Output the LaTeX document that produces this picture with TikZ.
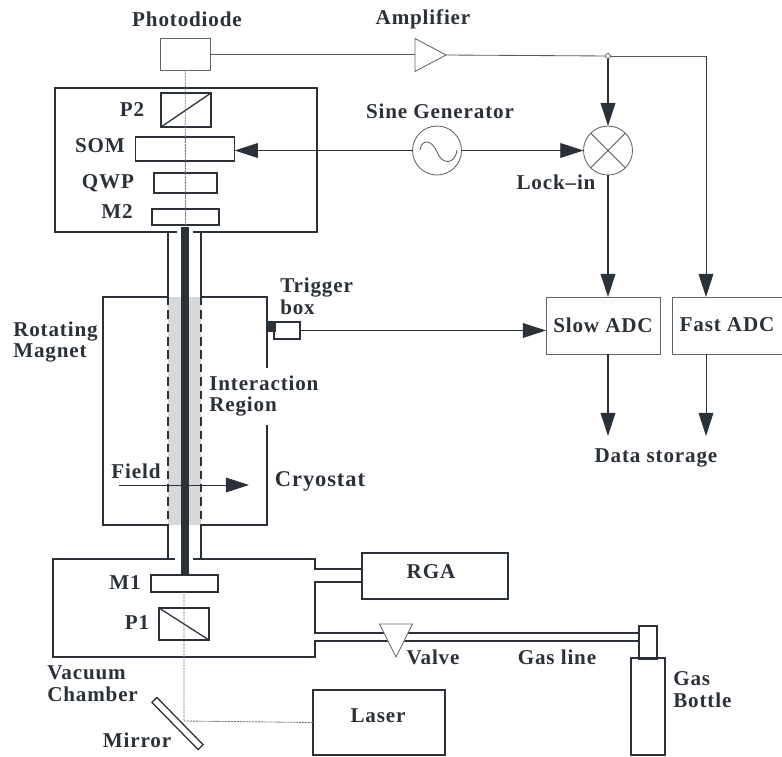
\documentclass[tikz,border=0pt]{standalone}
\usepackage{fontspec}
\setmainfont[LetterSpace=4]{Liberation Serif}
\usepackage{xcolor}
\usepackage{tikz}
\usetikzlibrary{arrows.meta,shapes.geometric}
\definecolor{ink}{HTML}{2A3138}
\definecolor{softgray}{HTML}{D6D8D9}
\definecolor{beamgray}{HTML}{6F757A}
\begin{document}
\begin{tikzpicture}[
  x=0.025cm, y=-0.025cm,
  font=\fontsize{15}{15.6}\selectfont\bfseries,
  lab/.style={text=ink, inner sep=0pt, align=left},
  boxsize/.style 2 args={minimum width=#1*0.025cm, minimum height=#2*0.025cm},
  box/.style={draw=ink, line width=0.9pt, inner sep=0pt, outer sep=0pt},
  thinbox/.style={draw=ink!75, line width=0.6pt, inner sep=0pt, outer sep=0pt},
  wall/.style={draw=ink, line width=0.9pt},
  wire/.style={draw=ink!80, line width=0.6pt},
  beam/.style={draw=beamgray, line width=0.6pt, dash pattern=on 1.5pt off 0.6pt},
  arrow/.style={-{Triangle[length=0.58cm,width=0.37cm]}, draw=ink, line width=0.9pt},
  thinarrow/.style={arrow, line width=0.6pt}
]
\useasboundingbox (0,0) rectangle (782,756);
\node[box, boxsize={33}{228}, fill=softgray, draw=none] (region) at (184.5,411) {};
\node[box, boxsize={8}{348}, fill=ink, draw=none] (bar) at (185,401) {};
\node[thinbox, boxsize={50}{32}] (pd) at (185.2,54) {};
\node[box, boxsize={50}{34}] (p2) at (186,110) {};
\node[box, boxsize={99}{24}] (som) at (185.2,149) {};
\node[box, boxsize={63}{20}] (qwp) at (185.5,183) {};
\node[box, boxsize={67}{16}] (m2) at (185.5,217) {};
\node[box, boxsize={67}{17}] (m1) at (184.5,583.5) {};
\node[box, boxsize={50}{32}] (p1) at (184,624) {};
\node[box, boxsize={66}{7}, rotate=-45.6] (mirror) at (177.5,723.5) {};
\node[box, boxsize={132}{65}] (laser) at (379,722.5) {};
\node[box, boxsize={146}{46}] (rga) at (435,576) {};
\node[box, boxsize={18}{33}] (neck) at (648,642.5) {};
\node[box, boxsize={34}{97}] (bottle) at (648,706.5) {};
\node[box, boxsize={26}{17}] (trig) at (287,330.5) {};
\node[box, boxsize={8}{9}, fill=ink] (nub) at (271,326.5) {};
\node[thinbox, boxsize={114}{57}] (slow) at (603,325.5) {};
\node[thinbox, boxsize={111}{57}] (fast) at (727.5,325.5) {};
\node[thinbox, circle, boxsize={49}{49}] (sine) at (437,150.5) {};
\node[thinbox, circle, boxsize={49}{49}] (lockin) at (608,150.5) {};
\node[thinbox, circle, boxsize={5}{5}] (junction) at (608,56) {};
\coordinate (fastbend) at (706,56);
\coordinate (slowend) at (608,436);
\coordinate (fastend) at (706,436);
\coordinate (fieldstart) at (119,485);
\coordinate (fieldend) at (249,485);
\coordinate (mirrorhit) at (184,721);
\draw[wall] (177,232) -- (55,232) -- (55,88) -- (317,88) -- (317,232) -- (193,232);
\draw[wall] (175,559) -- (53,559) -- (53,657) -- (315,657) -- (315,641) -- (639,641);
\draw[wall] (193,559) -- (315,559) -- (315,569) -- (362,569);
\draw[wall] (362,582) -- (315,582) -- (315,633) -- (639,633);
\draw[wall] (168,297) -- (103,297) -- (103,525) -- (168,525);
\draw[wall] (201,297) -- (267,297) -- (267,368);
\draw[wall] (267,425) -- (267,525) -- (201,525);
\foreach \tubex in {168,201} {
  \draw[wall] (\tubex,232) -- (\tubex,297);
  \draw[wall, line width=1.5pt, dash pattern=on 6pt off 3.5pt] (\tubex,297) -- (\tubex,525);
  \draw[wall] (\tubex,525) -- (\tubex,559);
}
\draw[box] (p2.south west) -- (p2.north east);
\draw[box] (p1.north west) -- (p1.south east);
\draw[beam] (pd.south) -- (m2.south);
\draw[beam] (laser.west) -- (mirrorhit) -- (mirrorhit |- m1.south);
\node[thinbox, fill=white, isosceles triangle, isosceles triangle stretches, boxsize={33}{31}, anchor=apex] (amp) at (446,55) {};
\node[thinbox, fill=white, isosceles triangle, isosceles triangle stretches, shape border rotate=270, boxsize={33}{33}, anchor=apex] (valve) at (396,657) {};
\draw[wire] (pd.east) -- (pd.east -| amp.west);
\draw[wire] (amp.apex) -- (junction);
\draw[wire] (junction) -- (fastbend);
\draw[arrow] (junction) -- (lockin.north);
\draw[thinarrow] (fastbend) -- (fastbend |- fast.north);
\draw[thinarrow] (sine.west) -- (sine.west -| som.east);
\draw[thinarrow] (sine.east) -- (lockin.west);
\draw[arrow] (lockin.south) -- (lockin.south |- slow.north);
\draw[thinarrow] (trig.east) -- (slow.west |- trig.east);
\draw[thinarrow] (fastbend |- fast.south) -- (fastend);
\draw[arrow] (slowend |- slow.south) -- (slowend);
\draw[thinarrow] (fieldstart) -- (fieldend);
\draw[wire] (lockin.45) -- (lockin.225);
\draw[wire] (lockin.135) -- (lockin.315);
\draw[wire] (420,150) .. controls (422,138) and (432,140) .. (437,152) .. controls (442,165) and (455,165) .. (457,150);
\node[lab] (lpd) at (187,19) {Photodiode};
\node[lab] (lamp) at (423,19) {Amplifier};
\node[lab] (lsine) at (440,111) {Sine Generator};
\node[lab] (llockin) at (556,182) {Lock--in};
\node[lab] (lp2) at (132,110) {P2};
\node[lab] (lsom) at (100,146) {SOM};
\node[lab] (lqwp) at (108,183) {QWP};
\node[lab] (lm2) at (117,212) {M2};
\node[lab] (lm1) at (125,583) {M1};
\node[lab] (lp1) at (137,623) {P1};
\node[lab, anchor=west] (ltrig) at (280,296) {Trigger\\box};
\node[lab, anchor=west] (lmagnet) at (13,342) {Rotating\\Magnet};
\node[lab, anchor=west] (lregion) at (209,396) {Interaction\\Region};
\node[lab] (lfield) at (136,471) {Field};
\node[lab, font=\fontsize{16}{17}\selectfont\bfseries] (lcryo) at (320,481) {Cryostat};
\node[lab] (lslow) at (603,325) {Slow ADC};
\node[lab] (lfast) at (727,325) {Fast ADC};
\node[lab] (lstore) at (656,458) {Data storage};
\node[lab] (lrga) at (431,572) {RGA};
\node[lab] (lvalve) at (433,657) {Valve};
\node[lab] (lline) at (557,657) {Gas line};
\node[lab] (llaser) at (378,716) {Laser};
\node[lab, anchor=west] (lbottle) at (673,690) {Gas\\Bottle};
\node[lab, anchor=west] (lchamber) at (47,684) {Vacuum\\Chamber};
\node[lab] (lmirror) at (137,740) {Mirror};
\end{tikzpicture}
\end{document}
